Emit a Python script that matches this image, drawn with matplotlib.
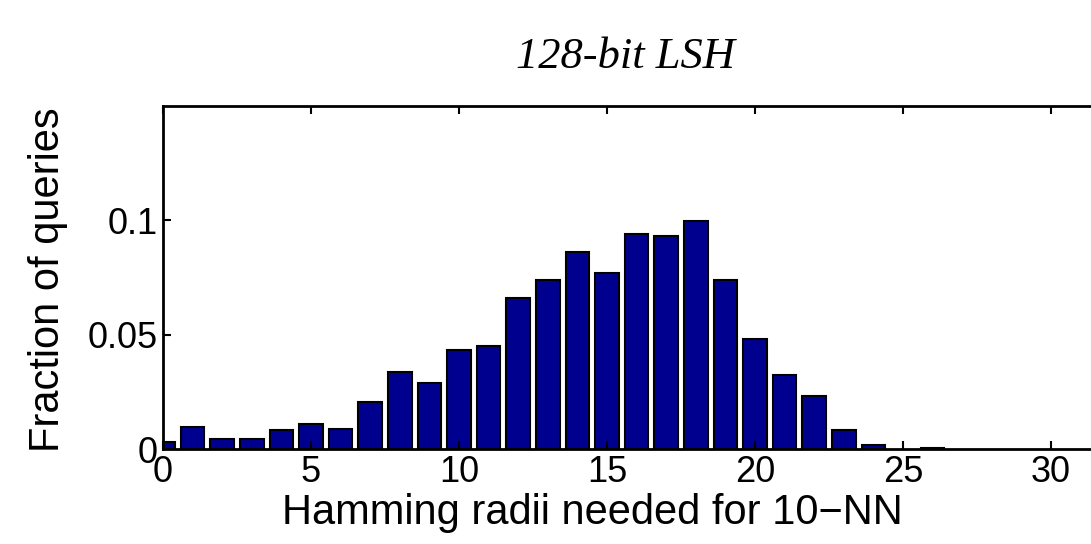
import matplotlib
matplotlib.use("Agg")
import matplotlib.pyplot as plt

# radio de Hamming (centro de cada barra) y fraccion de consultas
radii = list(range(0, 27))
fraction = [0.0029, 0.0095, 0.0045, 0.0045, 0.0083, 0.0111, 0.0086, 0.0205,
            0.0337, 0.0287, 0.0432, 0.0449, 0.0660, 0.0741, 0.0861, 0.0770,
            0.0941, 0.0931, 0.0996, 0.0741, 0.0483, 0.0322, 0.0231, 0.0085,
            0.0018, 0.0, 0.0006]

xticks = [0, 5, 10, 15, 20, 25, 30]
yticks = [0, 0.05, 0.1]
yticklabels = ["0", "0.05", "0.1"]

plt.rcParams['font.family'] = ['Liberation Sans', 'DejaVu Sans']

fig = plt.figure(figsize=(10.91, 5.44), dpi=100)
ax = fig.add_axes([0.1494, 0.1746, 0.9496, 0.6305])

# barras vacias sin borde
lw = [1.5 if f > 0 else 0 for f in fraction]
ax.bar(radii, fraction, width=0.8, color="#00008F", edgecolor="black", linewidth=lw)

ax.set_xlim(0, 35)
ax.set_ylim(0, 0.15)
ax.set_xticks(xticks)
ax.set_yticks(yticks)
ax.set_yticklabels(yticklabels)
ax.tick_params(direction="in", length=6, width=1.5, labelsize=26, top=True, right=True, pad=4)
for s in ax.spines.values():
    s.set_linewidth(2)

fig.text(0.044, 0.485, "Fraction of queries", rotation=90, fontsize=30, ha="center", va="center")
fig.text(0.543, 0.037, "Hamming radii needed for 10\u2212NN", fontsize=30, ha="center", va="baseline")
fig.text(0.573, 0.895, "128-bit LSH", fontsize=32, ha="center", va="center",
         family="Liberation Serif", style="italic")

fig.savefig("out.png", dpi=100)
